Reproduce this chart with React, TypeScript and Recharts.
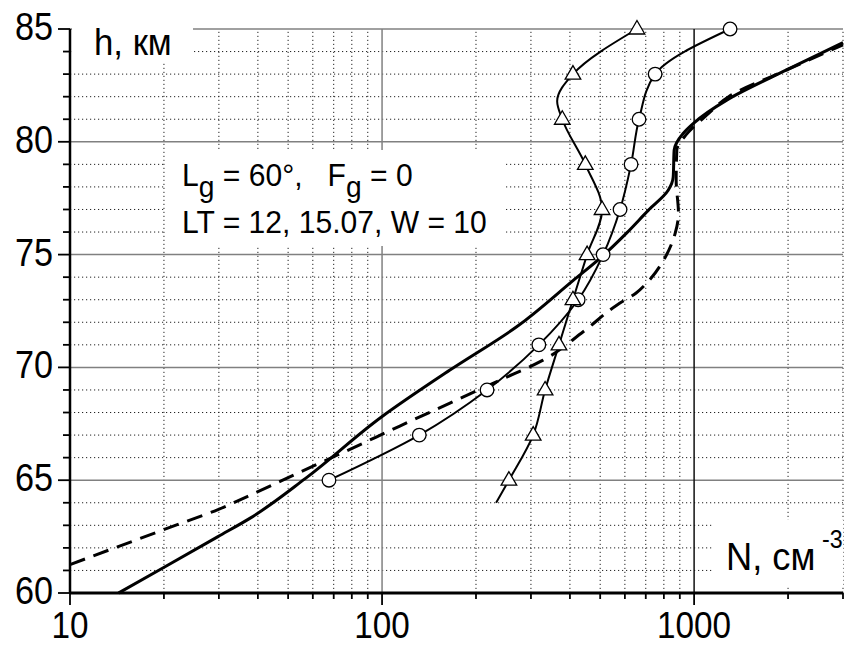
import React from 'react';
import { LineChart, Line, XAxis, YAxis, ReferenceLine } from 'recharts';

// ---- axes / ticks ----
const hTicks = [60, 61, 62, 63, 64, 65, 66, 67, 68, 69, 70, 71, 72, 73, 74, 75, 76, 77, 78, 79, 80, 81, 82, 83, 84, 85];
const hLabelTicks = [60, 65, 70, 75, 80, 85];
const hMajorGrid = [65, 70, 75, 80, 85];
const hMinorGrid = [61, 62, 63, 64, 66, 67, 68, 69, 71, 72, 73, 74, 76, 77, 78, 79, 81, 82, 83, 84];
const nTicks = [10, 20, 30, 40, 50, 60, 70, 80, 90, 100, 200, 300, 400, 500, 600, 700, 800, 900, 1000, 2000, 3000];
const nLabelTicks = [10, 100, 1000];
const nMinorGrid = [20, 30, 40, 50, 60, 70, 80, 90, 200, 300, 400, 500, 600, 700, 800, 900, 2000, 3000];
const nGrayGrid = [100];
const nDarkGrid = [1000];

// ---- series: solid line (no markers) ----
const solidH = [60.0, 61.12, 62.5, 63.32, 65.09, 67.81, 69.88, 71.8, 73.86, 74.97, 75.93, 76.96, 77.85, 78.43, 79.63, 80.37, 80.81, 81.86, 83.2, 84.4];
const solidN = [14.3, 19.9, 29.8, 37.8, 57, 99.8, 165, 270, 410, 512, 605, 713, 826, 857, 863, 922, 993, 1276, 1986, 3000];

// ---- series: dashed line (no markers) ----
const dashH = [61.26, 62.8, 63.7, 64.47, 65.36, 66.37, 67.4, 68.42, 69.44, 70.32, 71.58, 72.76, 73.3, 73.9, 74.75, 75.93, 76.81, 78.3, 79.63, 80.35, 81.2, 82.0, 83.2, 84.3];
const dashN = [10, 19.9, 29.8, 39.7, 54.6, 78.9, 114, 165, 239, 328, 441, 565, 652, 722, 798, 869, 891, 876, 880, 948, 1101, 1290, 1990, 3000];

// ---- series: circles ----
const circleH = [65, 67, 69, 71, 73, 75, 77, 79, 81, 83, 85];
const circleN = [67.6, 131.6, 217, 318, 425, 511, 579, 628, 666, 750, 1304];

// ---- series: triangles ----
const triH = [64, 65, 67, 69, 71, 73, 75, 77, 79, 81, 81.8, 83, 85];
const triN = [232, 255, 305, 333, 369, 409, 454, 507, 448, 378, 364, 409, 656];
const triMark = [false, true, true, true, true, true, true, true, true, true, false, true, true];

const solidData = solidH.map((h, i) => ({ h, N: solidN[i] }));
const dashData = dashH.map((h, i) => ({ h, N: dashN[i] }));
const circleData = circleH.map((h, i) => ({ h, N: circleN[i], m: true }));
const triData = triH.map((h, i) => ({ h, N: triN[i], m: triMark[i] }));

const FONT = "'Liberation Sans', Arial, Helvetica, sans-serif";

const YTick = (props: any) => {
  const { x, y, payload } = props;
  const v = payload.value;
  const major = hLabelTicks.includes(v);
  return (
    <g>
      <line x1={x - (major ? 12 : 7)} x2={x} y1={y} y2={y} stroke="#000" strokeWidth={1.8} />
      {major && (
        <text transform={`translate(${x - 17},${y + 11}) scale(0.9,1)`} textAnchor="end" fontSize={38} fontFamily={FONT} fill="#000">
          {v}
        </text>
      )}
    </g>
  );
};

const XTick = (props: any) => {
  const { x, y, payload } = props;
  const v = payload.value;
  const major = nLabelTicks.includes(v);
  return (
    <g>
      <line x1={x} x2={x} y1={y} y2={y + (major ? 12 : 6)} stroke="#000" strokeWidth={1.8} />
      {major && (
        <text transform={`translate(${x},${y + 45}) scale(0.9,1)`} textAnchor="middle" fontSize={37} fontFamily={FONT} fill="#000">
          {v}
        </text>
      )}
    </g>
  );
};

const CircleDot = (props: any) => {
  const { cx, cy, payload, index } = props;
  if (!payload || !payload.m || cx == null || cy == null) return <g key={`c-${index}`} />;
  return <circle key={`c-${index}`} cx={cx} cy={cy} r={6.8} fill="#fff" stroke="#000" strokeWidth={1.3} />;
};

const TriDot = (props: any) => {
  const { cx, cy, payload, index } = props;
  if (!payload || !payload.m || cx == null || cy == null) return <g key={`t-${index}`} />;
  const w = 7.8;
  const pts = `${cx},${cy - 8.5} ${cx - w},${cy + 5} ${cx + w},${cy + 5}`;
  return <polygon key={`t-${index}`} points={pts} fill="#fff" stroke="#000" strokeWidth={1.3} />;
};

export default function App() {
  return (
    <div style={{ position: 'absolute', left: 0, top: 0, width: 846, height: 646, background: '#fff' }}>
      <LineChart
        width={846}
        height={646}
        layout="vertical"
        margin={{ top: 29, right: 3, bottom: 0, left: 0 }}
      >
        {hMinorGrid.map((v) => (
          <ReferenceLine key={`hm-${v}`} y={v} stroke="#222" strokeWidth={1} strokeDasharray="1.2 2.8" />
        ))}
        {nMinorGrid.map((v) => (
          <ReferenceLine key={`nm-${v}`} x={v} stroke="#222" strokeWidth={1} strokeDasharray="1.2 2.8" />
        ))}
        {hMajorGrid.map((v) => (
          <ReferenceLine key={`hM-${v}`} y={v} stroke="#808080" strokeWidth={1.5} />
        ))}
        {nGrayGrid.map((v) => (
          <ReferenceLine key={`nG-${v}`} x={v} stroke="#808080" strokeWidth={1.5} />
        ))}
        {nDarkGrid.map((v) => (
          <ReferenceLine key={`nD-${v}`} x={v} stroke="#111" strokeWidth={1.5} />
        ))}
        <XAxis
          type="number"
          scale="log"
          domain={[10, 3000]}
          ticks={nTicks}
          interval={0}
          height={53}
          tickLine={false}
          tickSize={0}
          tickMargin={0}
          tick={<XTick />}
          axisLine={{ stroke: '#000', strokeWidth: 3 }}
        />
        <YAxis
          type="number"
          dataKey="h"
          domain={[60, 85]}
          reversed
          ticks={hTicks}
          interval={0}
          width={70}
          tickLine={false}
          tickSize={0}
          tickMargin={0}
          tick={<YTick />}
          axisLine={{ stroke: '#000', strokeWidth: 2.5 }}
        />
        <Line data={dashData} dataKey="N" type="monotone" stroke="#000" strokeWidth={3} strokeDasharray="16 9" dot={false} activeDot={false} isAnimationActive={false} />
        <Line data={solidData} dataKey="N" type="monotone" stroke="#000" strokeWidth={3} dot={false} activeDot={false} isAnimationActive={false} />
        <Line data={circleData} dataKey="N" type="monotone" stroke="#000" strokeWidth={2} dot={CircleDot} activeDot={false} isAnimationActive={false} />
        <Line data={triData} dataKey="N" type="monotone" stroke="#000" strokeWidth={2} dot={TriDot} activeDot={false} isAnimationActive={false} />
      </LineChart>
      <svg width={846} height={646} style={{ position: 'absolute', left: 0, top: 0, pointerEvents: 'none' }}>
        <rect x={72} y={0} width={121} height={62} fill="#fff" />
        <text transform="translate(94,55) scale(0.94,1)" fontSize={37} fontFamily={FONT} fill="#000">h, км</text>
        <rect x={166} y={150} width={339} height={96} fill="#fff" />
        <text transform="translate(182,186) scale(0.94,1)" fontSize={32} fontFamily={FONT} fill="#000" style={{ whiteSpace: 'pre' }}>
          <tspan>L</tspan>
          <tspan dy={11} fontSize={30}>g</tspan>
          <tspan dy={-11}>{' = 60°,   F'}</tspan>
          <tspan dy={11} fontSize={30}>g</tspan>
          <tspan dy={-11}>{' = 0'}</tspan>
        </text>
        <text transform="translate(182,233) scale(0.94,1)" fontSize={32} fontFamily={FONT} fill="#000" style={{ whiteSpace: 'pre' }}>
          LT = 12, 15.07, W = 10
        </text>
        <rect x={712} y={520} width={131} height={66} fill="#fff" />
        <text transform="translate(726,570) scale(0.93,1)" fontSize={39} fontFamily={FONT} fill="#000">N, см</text>
        <text transform="translate(822,548) scale(0.93,1)" fontSize={25} fontFamily={FONT} fill="#000">-3</text>
      </svg>
    </div>
  );
}
